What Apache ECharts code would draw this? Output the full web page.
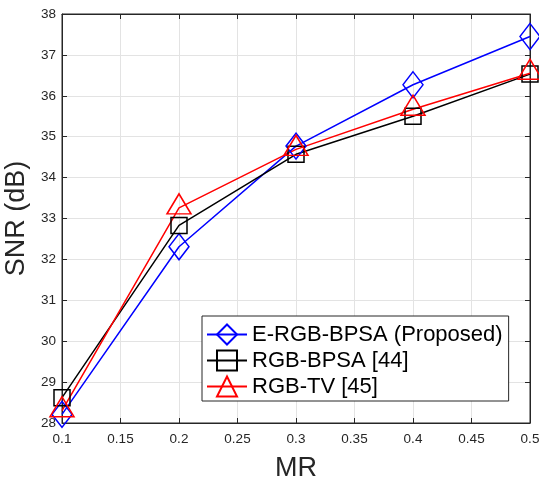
<!DOCTYPE html>
<html>
<head>
<meta charset="utf-8">
<script src="https://cdn.jsdelivr.net/npm/echarts@6/dist/echarts.min.js"></script>
<style>
  html, body { margin: 0; padding: 0; background: #fff; }
  #chart { width: 539px; height: 479px; }
</style>
</head>
<body>
<div id="chart"></div>
<script>
// Measurement ratio (x) and reconstruction SNR per method
const mrValues = [0.1, 0.2, 0.3, 0.4, 0.5];
const eRgbBpsa = [28.21, 32.31, 34.77, 36.27, 37.45];
const rgbBpsa  = [28.62, 32.83, 34.57, 35.50, 36.53];
const rgbTv    = [28.30, 33.26, 34.69, 35.67, 36.55];

const seriesNames = ['E-RGB-BPSA (Proposed)', 'RGB-BPSA [44]', 'RGB-TV [45]'];
const axisColor = '#262626';
const gridColor = '#e3e3e3';
const fontFamily = 'Liberation Sans, Arial, sans-serif';

function pairs(ys) { return mrValues.map((x, i) => [x, ys[i]]); }

function lineSeries(name, ys, color, symbol, size, offset) {
  return {
    name: name,
    type: 'line',
    data: pairs(ys),
    symbol: symbol,
    symbolSize: size,
    symbolOffset: offset || [0, 0],
    showAllSymbol: true,
    lineStyle: { color: color, width: 1.5 },
    itemStyle: { color: 'rgba(255,255,255,0)', borderColor: color, borderWidth: 1.5 },
    emphasis: { disabled: true },
    animation: false,
    z: 3
  };
}

const chart = echarts.init(document.getElementById('chart'));
chart.setOption({
  backgroundColor: '#fff',
  animation: false,
  grid: {
    left: 62, right: 9, top: 14, bottom: 56,
    outerBoundsMode: 'none',
    containLabel: false,
    show: true, borderColor: axisColor, borderWidth: 1
  },
  legend: {
    data: seriesNames,
    orient: 'vertical',
    left: 202, top: 316,
    padding: [6, 6, 2, 4],
    itemWidth: 40, itemHeight: 25, itemGap: 1,
    backgroundColor: '#fff',
    borderColor: axisColor, borderWidth: 1,
    textStyle: { fontSize: 22, color: '#000', fontFamily: fontFamily, lineHeight: 25 },
    selectedMode: false
  },
  xAxis: [{
    type: 'value', min: 0.1, max: 0.5, interval: 0.05,
    name: 'MR', nameLocation: 'middle', nameGap: 32,
    nameTextStyle: { fontSize: 27, color: axisColor, fontFamily: fontFamily },
    axisLine: { show: true, lineStyle: { color: axisColor } },
    axisTick: { show: true, inside: true, length: 5, lineStyle: { color: axisColor } },
    axisLabel: { fontSize: 13.5, color: axisColor, fontFamily: fontFamily, margin: 9,
      formatter: v => String(+v.toFixed(2)) },
    splitLine: { show: true, lineStyle: { color: gridColor } }
  }, {
    type: 'value', min: 0.1, max: 0.5, interval: 0.05, position: 'top',
    axisLine: { show: true, lineStyle: { color: axisColor } },
    axisTick: { show: true, inside: true, length: 5, lineStyle: { color: axisColor } },
    axisLabel: { show: false }, splitLine: { show: false }
  }],
  yAxis: [{
    type: 'value', min: 28, max: 38, interval: 1,
    name: 'SNR (dB)', nameLocation: 'middle', nameGap: 27,
    nameTextStyle: { fontSize: 27, color: axisColor, fontFamily: fontFamily },
    axisLine: { show: true, lineStyle: { color: axisColor } },
    axisTick: { show: true, inside: true, length: 5, lineStyle: { color: axisColor } },
    axisLabel: { fontSize: 13.5, color: axisColor, fontFamily: fontFamily, margin: 6 },
    splitLine: { show: true, lineStyle: { color: gridColor } }
  }, {
    type: 'value', min: 28, max: 38, interval: 1, position: 'right',
    axisLine: { show: true, lineStyle: { color: axisColor } },
    axisTick: { show: true, inside: true, length: 5, lineStyle: { color: axisColor } },
    axisLabel: { show: false }, splitLine: { show: false }
  }],
  series: [
    lineSeries(seriesNames[0], eRgbBpsa, '#0000ff', 'diamond', [20, 26]),
    lineSeries(seriesNames[1], rgbBpsa, '#000000', 'rect', [16, 16]),
    lineSeries(seriesNames[2], rgbTv, '#ff0000', 'triangle', [24, 20], [0, -4])
  ]
});
</script>
</body>
</html>
